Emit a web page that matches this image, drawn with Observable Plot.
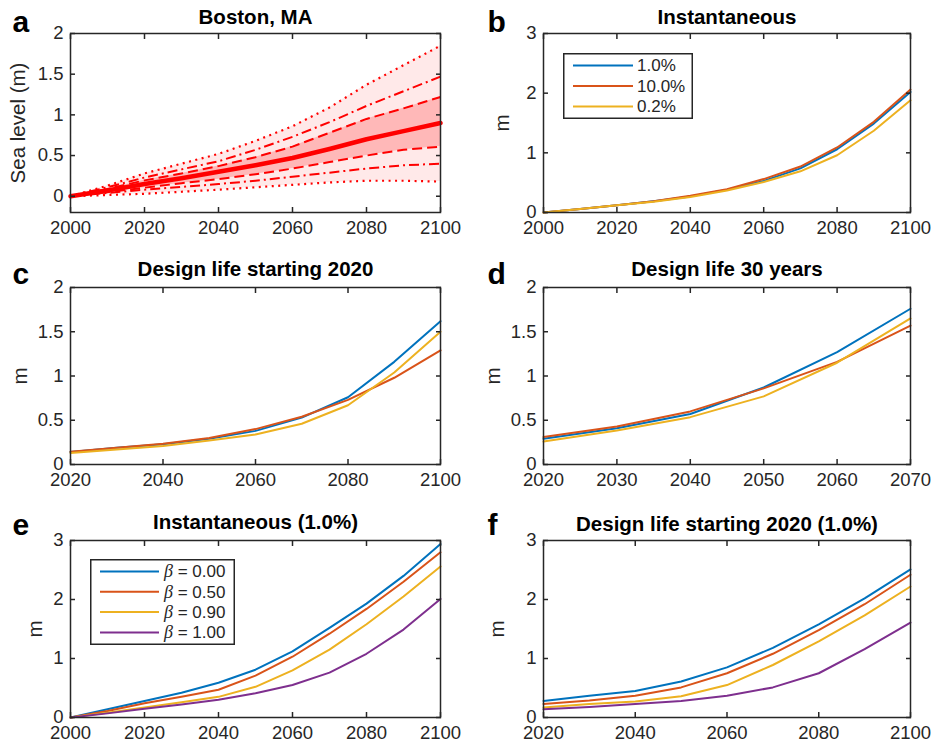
<!DOCTYPE html>
<html><head><meta charset="utf-8">
<script src="https://cdn.jsdelivr.net/npm/d3@7"></script>
<script src="https://cdn.jsdelivr.net/npm/@observablehq/plot@0.6"></script>
<style>
body{margin:0;background:#fff;}
#root{position:relative;width:936px;height:744px;background:#fff;font-family:"Liberation Sans",Arial,Helvetica,sans-serif;}
#root > svg, #root > div{position:absolute;}
</style></head><body><div id="root"></div>
<script>
// ---------- data ----------
const years2000 = [2000, 2010, 2020, 2030, 2040, 2050, 2060, 2070, 2080, 2090, 2100];
const years2020 = [2020, 2030, 2040, 2050, 2060, 2070, 2080, 2090, 2100];
const years2020to2070 = [2020, 2030, 2040, 2050, 2060, 2070];

// panel a: Boston, MA projections (m)
const bostonMedian     = [0, 0.07, 0.15, 0.22, 0.30, 0.38, 0.47, 0.58, 0.70, 0.80, 0.90];
const bostonDashedUp   = [0, 0.09, 0.195, 0.28, 0.37, 0.48, 0.61, 0.78, 0.95, 1.08, 1.22];
const bostonDashedLo   = [0, 0.05, 0.105, 0.16, 0.21, 0.27, 0.34, 0.42, 0.50, 0.57, 0.61];
const bostonDashDotUp  = [0, 0.11, 0.23, 0.33, 0.43, 0.57, 0.73, 0.91, 1.11, 1.29, 1.47];
const bostonDashDotLo  = [0, 0.04, 0.08, 0.115, 0.15, 0.19, 0.24, 0.29, 0.34, 0.38, 0.40];
const bostonDottedUp   = [0, 0.13, 0.28, 0.40, 0.52, 0.68, 0.86, 1.09, 1.37, 1.61, 1.85];
const bostonDottedLo   = [0, 0.015, 0.03, 0.055, 0.08, 0.11, 0.14, 0.17, 0.19, 0.19, 0.18];

// panels b-d series names
const probLabels = ["1.0%", "10.0%", "0.2%"];
// panel b: Instantaneous
const instP1  = [0, 0.06, 0.12, 0.19, 0.27, 0.38, 0.53, 0.74, 1.06, 1.49, 2.02];
const instP10 = [0, 0.06, 0.12, 0.19, 0.28, 0.39, 0.56, 0.77, 1.09, 1.52, 2.06];
const instP02 = [0, 0.06, 0.12, 0.18, 0.26, 0.37, 0.51, 0.69, 0.96, 1.37, 1.88];
// panel c: Design life starting 2020
const dl2020P1  = [0.14, 0.19, 0.23, 0.29, 0.38, 0.53, 0.76, 1.16, 1.62];
const dl2020P10 = [0.145, 0.19, 0.235, 0.30, 0.40, 0.54, 0.73, 0.98, 1.29];
const dl2020P02 = [0.13, 0.17, 0.21, 0.27, 0.34, 0.46, 0.67, 1.04, 1.50];
// panel d: Design life 30 years
const dl30P1  = [0.29, 0.41, 0.57, 0.87, 1.27, 1.76];
const dl30P10 = [0.31, 0.43, 0.60, 0.86, 1.16, 1.57];
const dl30P02 = [0.26, 0.385, 0.535, 0.77, 1.15, 1.65];

// panels e-f: beta series
const betaLabels = ["0.00", "0.50", "0.90", "1.00"];
const instB000 = [0, 0.14, 0.28, 0.42, 0.59, 0.81, 1.12, 1.52, 1.93, 2.40, 2.94];
const instB050 = [0, 0.11, 0.24, 0.35, 0.47, 0.71, 1.03, 1.42, 1.84, 2.30, 2.80];
const instB090 = [0, 0.08, 0.17, 0.26, 0.35, 0.52, 0.80, 1.15, 1.58, 2.05, 2.56];
const instB100 = [0, 0.07, 0.15, 0.22, 0.30, 0.41, 0.55, 0.76, 1.08, 1.49, 2.01];
const dlB000 = [0.28, 0.37, 0.45, 0.61, 0.85, 1.18, 1.58, 2.02, 2.51];
const dlB050 = [0.23, 0.29, 0.37, 0.51, 0.75, 1.08, 1.48, 1.92, 2.42];
const dlB090 = [0.17, 0.23, 0.27, 0.36, 0.55, 0.89, 1.29, 1.73, 2.22];
const dlB100 = [0.14, 0.18, 0.23, 0.28, 0.37, 0.51, 0.75, 1.16, 1.61];

// axis ticks
const xTicks2000 = [2000, 2020, 2040, 2060, 2080, 2100];
const xTicks2020 = [2020, 2040, 2060, 2080, 2100];
const xTicksD = [2020, 2030, 2040, 2050, 2060, 2070];
const yTicks2 = [0, 0.5, 1, 1.5, 2];
const yTicks3 = [0, 1, 2, 3];

const colors = ["#0072BD", "#D95319", "#EDB120", "#7E2F8E"];
const INK = "#262626";
const FONT = '"Liberation Sans", Arial, Helvetica, sans-serif';

// ---------- helpers ----------
const root = document.getElementById("root");
const pts = (xs, ys) => xs.map((x, i) => ({x, y: ys[i]}));
const band = (xs, lo, hi) => xs.map((x, i) => ({x, y1: lo[i], y2: hi[i]}));

function seriesLines(xs, list) {
  return list.map((ys, k) => Plot.line(pts(xs, ys), {x: "x", y: "y", stroke: colors[k], strokeWidth: 2}));
}

function panel(o) {
  const [mt, mr, mb, ml] = o.margin;
  const svg = Plot.plot({
    width: o.width, height: o.height,
    marginTop: mt, marginRight: mr, marginBottom: mb, marginLeft: ml,
    x: {domain: o.xDomain}, y: {domain: o.yDomain},
    style: {fontFamily: FONT, fontSize: "18.5px", color: INK, background: "transparent", overflow: "visible"},
    marks: [
      ...o.marks,
      Plot.frame({stroke: INK, strokeWidth: 1.5}),
      Plot.axisX({ticks: o.xTicks, anchor: "bottom", tickSize: -5, tickPadding: 13, strokeWidth: 1.5, tickFormat: d => String(d), label: null}),
      Plot.axisX({ticks: o.xTicks, anchor: "top", tickSize: -5, strokeWidth: 1.5, tickFormat: () => "", label: null}),
      Plot.axisY({ticks: o.yTicks, anchor: "left", tickSize: -5, tickPadding: 12, strokeWidth: 1.5, tickFormat: d => String(d), label: null}),
      Plot.axisY({ticks: o.yTicks, anchor: "right", tickSize: -5, strokeWidth: 1.5, tickFormat: () => "", label: null}),
      Plot.text([o.title], {text: d => d, frameAnchor: "top", dy: o.titleDy, textAnchor: "middle", lineAnchor: "bottom", fontWeight: "bold", fontSize: 20.5, fill: "#000"}),
      Plot.text([o.letter], {text: d => d, frameAnchor: "top-left", dx: o.letterDx, dy: o.letterDy, textAnchor: "start", lineAnchor: "bottom", fontWeight: "bold", fontSize: 30, fill: "#000"}),
      Plot.text([o.ylabel], {text: d => d, frameAnchor: "left", dx: o.ylabelDx, rotate: -90, textAnchor: "middle", lineAnchor: "middle", fontSize: 20.5, fill: INK})
    ]
  });
  svg.style.left = o.left + "px";
  svg.style.top = o.top + "px";
  root.appendChild(svg);
}

function legend(o) {
  const svg = d3.create("svg").attr("width", o.width).attr("height", o.height)
    .style("left", o.left + "px").style("top", o.top + "px").style("overflow", "visible");
  svg.append("rect").attr("x", 0.75).attr("y", 0.75).attr("width", o.width - 1.5).attr("height", o.height - 1.5)
    .attr("fill", "#fff").attr("stroke", INK).attr("stroke-width", 1.5);
  o.items.forEach((it, i) => {
    const y = o.firstRow + i * o.rowGap;
    svg.append("line").attr("x1", o.lineX1).attr("x2", o.lineX2).attr("y1", y).attr("y2", y)
      .attr("stroke", it.color).attr("stroke-width", 2);
    const t = svg.append("text").attr("x", o.textX).attr("y", y).attr("dy", "0.35em")
      .attr("font-family", FONT).attr("font-size", 17).attr("fill", INK);
    if (it.beta) {
      t.append("tspan").attr("font-family", '"Liberation Serif", "DejaVu Serif", serif').attr("font-style", "italic").attr("font-size", 18).text("β");
      t.append("tspan").text(" = " + it.label);
    } else t.text(it.label);
  });
  root.appendChild(svg.node());
}

// ---------- panel a ----------
const RED = "#ff0000";
const dashed = (ys, dash, w) => Plot.line(pts(years2000, ys), {x: "x", y: "y", stroke: RED, strokeWidth: w, strokeDasharray: dash, strokeLinecap: "butt"});
panel({
  left: 0, top: 0, width: 470, height: 240, margin: [33, 30, 28, 70],
  xDomain: [2000, 2100], yDomain: [-0.2, 2], xTicks: xTicks2000, yTicks: yTicks2,
  title: "Boston, MA", titleDy: -10, letter: "a", letterDx: -58, letterDy: -2,
  ylabel: "Sea level (m)", ylabelDx: -52,
  marks: [
    Plot.areaY(band(years2000, bostonDottedLo, bostonDottedUp), {x: "x", y1: "y1", y2: "y2", fill: "#ffe9e9"}),
    Plot.areaY(band(years2000, bostonDashedLo, bostonDashedUp), {x: "x", y1: "y1", y2: "y2", fill: "#ffb8b8"}),
    dashed(bostonDottedUp, "2,4.5", 2.2),
    dashed(bostonDottedLo, "2,4.5", 2.2),
    dashed(bostonDashDotUp, "10,4,2,4", 2),
    dashed(bostonDashDotLo, "10,4,2,4", 2),
    dashed(bostonDashedUp, "10,5", 2),
    dashed(bostonDashedLo, "10,5", 2),
    Plot.line(pts(years2000, bostonMedian), {x: "x", y: "y", stroke: RED, strokeWidth: 4.5})
  ]
});

// ---------- panel b ----------
panel({
  left: 470, top: 0, width: 466, height: 240, margin: [33, 26, 28, 73],
  xDomain: [2000, 2100], yDomain: [0, 3], xTicks: xTicks2000, yTicks: yTicks3,
  title: "Instantaneous", titleDy: -10, letter: "b", letterDx: -56, letterDy: -2,
  ylabel: "m", ylabelDx: -41,
  marks: seriesLines(years2000, [instP1, instP10, instP02])
});
legend({left: 563, top: 53, width: 130, height: 66, firstRow: 12.5, rowGap: 20.5, lineX1: 10, lineX2: 70, textX: 74,
  items: probLabels.map((label, i) => ({label, color: colors[i]}))});

// ---------- panel c ----------
panel({
  left: 0, top: 240, width: 470, height: 250, margin: [47, 30, 26, 70],
  xDomain: [2020, 2100], yDomain: [0, 2], xTicks: xTicks2020, yTicks: yTicks2,
  title: "Design life starting 2020", titleDy: -12, letter: "c", letterDx: -58, letterDy: -4,
  ylabel: "m", ylabelDx: -50,
  marks: seriesLines(years2020, [dl2020P1, dl2020P10, dl2020P02])
});

// ---------- panel d ----------
panel({
  left: 470, top: 240, width: 466, height: 250, margin: [47, 26, 26, 73],
  xDomain: [2020, 2070], yDomain: [0, 2], xTicks: xTicksD, yTicks: yTicks2,
  title: "Design life 30 years", titleDy: -12, letter: "d", letterDx: -56, letterDy: -4,
  ylabel: "m", ylabelDx: -50,
  marks: seriesLines(years2020to2070, [dl30P1, dl30P10, dl30P02])
});

// ---------- panel e ----------
panel({
  left: 0, top: 490, width: 470, height: 254, margin: [50, 30, 27, 70],
  xDomain: [2000, 2100], yDomain: [0, 3], xTicks: xTicks2000, yTicks: yTicks3,
  title: "Instantaneous (1.0%)", titleDy: -12, letter: "e", letterDx: -58, letterDy: -6,
  ylabel: "m", ylabelDx: -35,
  marks: seriesLines(years2000, [instB000, instB050, instB090, instB100])
});
legend({left: 90, top: 559, width: 145, height: 86, firstRow: 12.5, rowGap: 20.3, lineX1: 10, lineX2: 69, textX: 74,
  items: betaLabels.map((label, i) => ({label, color: colors[i], beta: true}))});

// ---------- panel f ----------
panel({
  left: 470, top: 490, width: 466, height: 254, margin: [50, 26, 27, 73],
  xDomain: [2020, 2100], yDomain: [0, 3], xTicks: xTicks2020, yTicks: yTicks3,
  title: "Design life starting 2020 (1.0%)", titleDy: -10, letter: "f", letterDx: -56, letterDy: -6,
  ylabel: "m", ylabelDx: -46,
  marks: seriesLines(years2020, [dlB000, dlB050, dlB090, dlB100])
});
</script></body></html>
